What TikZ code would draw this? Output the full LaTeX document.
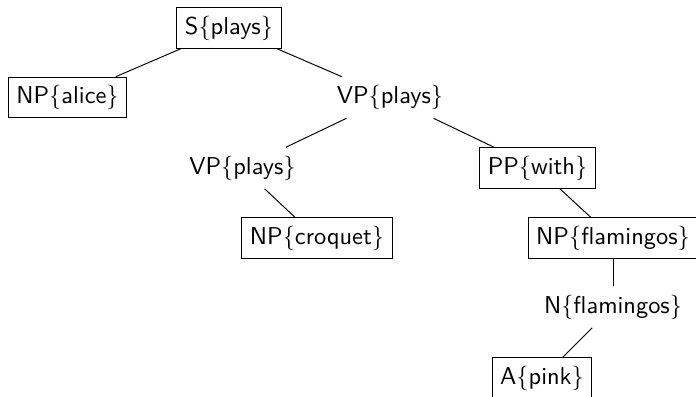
\documentclass[tikz,border=0pt]{standalone}
\usepackage{tikz}

\begin{document}
\begin{tikzpicture}[x=0.41pt,y=-0.41pt,font=\sffamily]
  \tikzstyle{boxed}=[draw,inner sep=3.33pt]
  \tikzstyle{plain}=[inner sep=3.33pt]
  \useasboundingbox (0,0) rectangle (696,397);
  \node[boxed] (s) at (229,28) {S\{plays\}};
  \node[boxed] (np1) at (67.5,97.5) {NP\{alice\}};
  \node[plain] (vp1) at (390,97.5) {VP\{plays\}};
  \node[plain] (vp2) at (242.5,168) {VP\{plays\}};
  \node[boxed] (pp) at (537.5,168) {PP\{with\}};
  \node[boxed] (np2) at (317,238) {NP\{croquet\}};
  \node[boxed] (np3) at (613,238) {NP\{flamingos\}};
  \node[plain] (n) at (613,307) {N\{flamingos\}};
  \node[boxed] (a) at (542,378) {A\{pink\}};
  \foreach \x/\y in {s/np1,s/vp1,vp1/vp2,vp1/pp,vp2/np2,pp/np3,np3/n,n/a} {
    \draw (\x) -- (\y);
  }
\end{tikzpicture}
\end{document}
